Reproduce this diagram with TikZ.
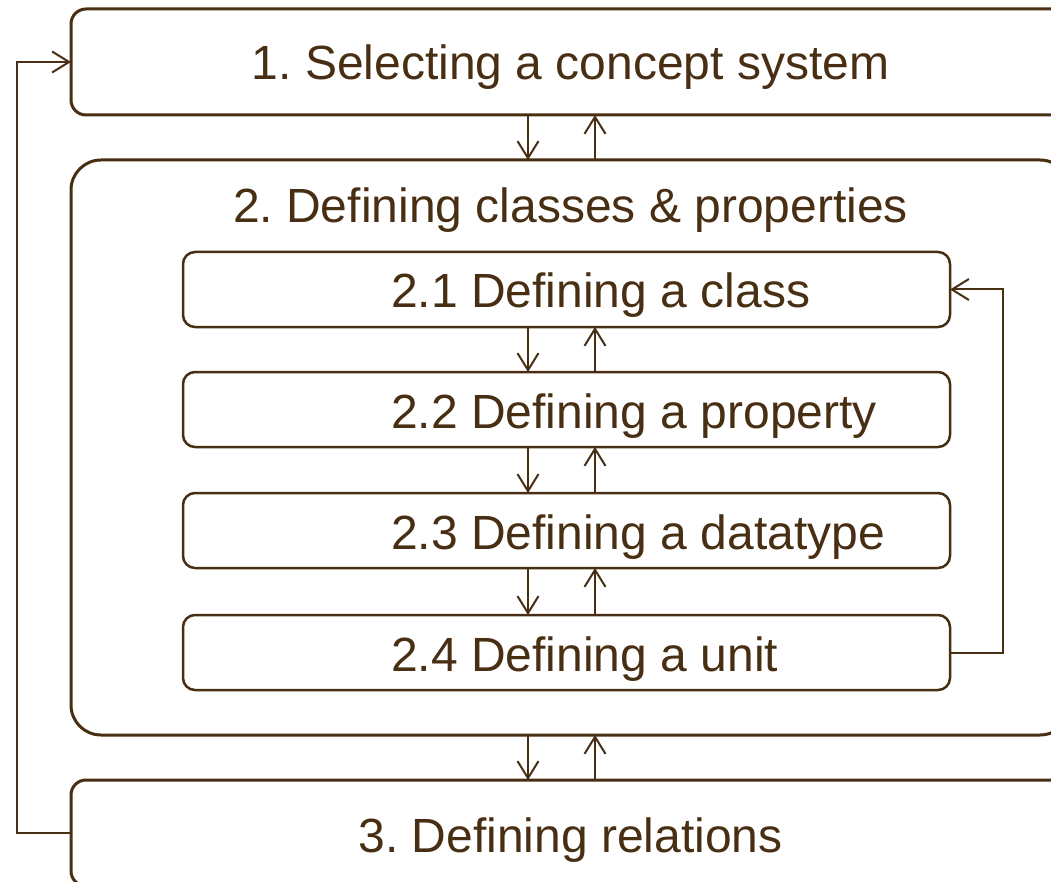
\documentclass[tikz,border=0pt]{standalone}
\usepackage{fontspec}
\setmainfont{Liberation Sans}
\usepackage{tikz}
\usetikzlibrary{arrows.meta}
\usetikzlibrary{positioning}
\definecolor{BOX-BROWN}{RGB}{72,46,18}
\frenchspacing

\begin{document}
\begin{tikzpicture}[x=1pt,y=-1pt,color=BOX-BROWN,
		every path/.style={>={Straight Barb[length=17pt,width=21pt]}},
		outbox/.style={draw,line width=3pt,rounded corners=15pt,minimum width=999pt,minimum height=106pt,inner sep=0pt,outer sep=0pt},
		inbox/.style={draw,line width=2.5pt,rounded corners=12pt,minimum width=767pt,minimum height=75pt,inner sep=0pt,outer sep=0pt},
		boxlbl/.style={font=\fontsize{48}{58}\selectfont,inner sep=0pt},
		conn/.style={line width=2pt}]
			\clip (0,0) rectangle (1051,882);

			% draw outer boxes
			\node (b1) at (570.5,62) [outbox] {};
			\node (b2) at (570.5,447.5) [outbox,rounded corners=30pt,minimum height=575pt] {};
			\node (b3) at (570.5,833) [outbox] {};
			\node (l1) [boxlbl,anchor=base] at ([yshift=-18pt]b1.center) {1. Selecting a concept system};
			\node (l2) [boxlbl,anchor=base] at ([yshift=-63pt]b2.north) {2. Defining classes \& properties};
			\node (l3) [boxlbl,anchor=base] at ([yshift=-19pt]b3.center) {3. Defining relations};

			% draw inner boxes
			\node (c21) at (566.5,289.5) [inbox] {};
			\node (c22) [inbox,below=45pt of c21] {};
			\node (c23) [inbox,below=46pt of c22] {};
			\node (c24) [inbox,below=47pt of c23] {};
			\node (l21) [boxlbl,anchor=base west] at ([xshift=208pt,yshift=-18.5pt]c21.west) {2.1 Defining a class};
			\node (l22) [boxlbl,anchor=base west] at ([xshift=208pt,yshift=-18.5pt]c22.west) {2.2 Defining a property};
			\node (l23) [boxlbl,anchor=base west] at ([xshift=208pt,yshift=-18.5pt]c23.west) {2.3 Defining a datatype};
			\node (l24) [boxlbl,anchor=base west] at ([xshift=208pt,yshift=-18.5pt]c24.west) {2.4 Defining a unit};

			% draw arrows
			\coordinate (dn) at (528,0);
			\coordinate (up) at (595,0);
			\draw[conn,->] (b1.south -| dn) -- (b2.north -| dn);
			\draw[conn,->] (b2.north -| up) -- (b1.south -| up);
			\draw[conn,->] (c21.south -| dn) -- (c22.north -| dn);
			\draw[conn,->] (c22.north -| up) -- (c21.south -| up);
			\draw[conn,->] (c22.south -| dn) -- (c23.north -| dn);
			\draw[conn,->] (c23.north -| up) -- (c22.south -| up);
			\draw[conn,->] (c23.south -| dn) -- (c24.north -| dn);
			\draw[conn,->] (c24.north -| up) -- (c23.south -| up);
			\draw[conn,->] (b2.south -| dn) -- (b3.north -| dn);
			\draw[conn,->] (b3.north -| up) -- (b2.south -| up);

			% draw loops
			\draw[conn,->] (c24.east) -- ++(53,0) |- (c21.east);
			\draw[conn,->] (b3.west) -- ++(-54,0) |- (b1.west);
		\end{tikzpicture}
\end{document}
